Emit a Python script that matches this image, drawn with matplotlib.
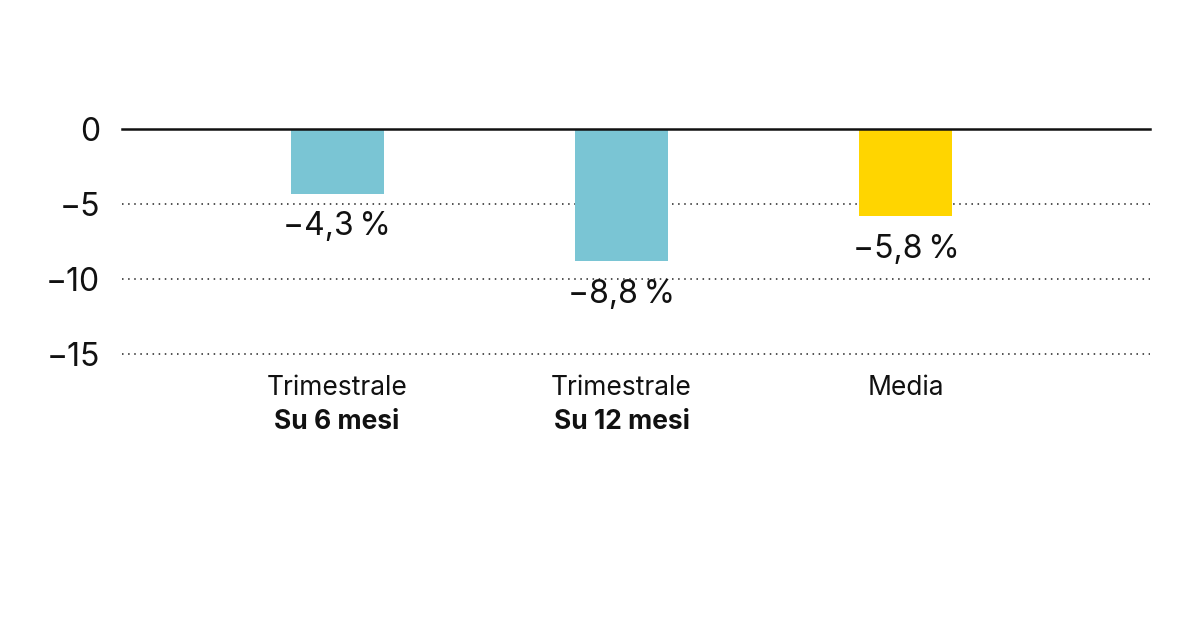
import matplotlib
matplotlib.use("Agg")
import matplotlib.pyplot as plt
import matplotlib.transforms as mtransforms

categories_top = ["Trimestrale", "Trimestrale", "Media"]
categories_bottom = ["Su 6 mesi", "Su 12 mesi", ""]
values = [-4.3, -8.8, -5.8]
value_labels = ["\u22124,3\u2009%", "\u22128,8\u2009%", "\u22125,8\u2009%"]
colors = ["#7AC5D4", "#7AC5D4", "#FFD500"]
yticks = [0, -5, -10, -15]
ytick_labels = ["0", "\u22125", "\u221210", "\u221215"]

plt.rcParams['font.family'] = ['Inter', 'DejaVu Sans']

fig = plt.figure(figsize=(12, 6.28), dpi=100)
ax = fig.add_axes([122/1200, 1-354/628, (1150-122)/1200, (354-129)/628])
x = list(range(len(values)))
ax.bar(x, values, width=0.327, color=colors, zorder=2)
ax.set_ylim(-15, 0)
ax.set_xlim(-0.756, 2.858)

for t in yticks:
    if t == 0:
        ax.axhline(t, color="#111111", lw=1.8, clip_on=False, zorder=3)
    else:
        ax.axhline(t, color="#222222", lw=1.1, ls=(0, (1, 3)), clip_on=False, zorder=1)

for s in ax.spines.values():
    s.set_visible(False)
ax.set_xticks([])
ax.set_yticks(yticks)
ax.set_yticklabels(ytick_labels, fontsize=23, color="#111111")
ax.tick_params(axis='y', length=0, pad=16)

for xi, v, lab in zip(x, values, value_labels):
    ax.annotate(lab, (xi, v), xytext=(0, -24), textcoords="offset points",
                ha="center", va="center", fontsize=23, color="#111111")

trans = mtransforms.blended_transform_factory(ax.transData, fig.transFigure)
for xi, top, bot in zip(x, categories_top, categories_bottom):
    ax.text(xi, 1-388/628, top, transform=trans, ha="center", va="center",
            fontsize=19, color="#111111")
    if bot:
        ax.text(xi, 1-422/628, bot, transform=trans, ha="center", va="center",
                fontsize=19, color="#111111", fontweight="bold")

fig.savefig("out.png", dpi=100, facecolor="white")
